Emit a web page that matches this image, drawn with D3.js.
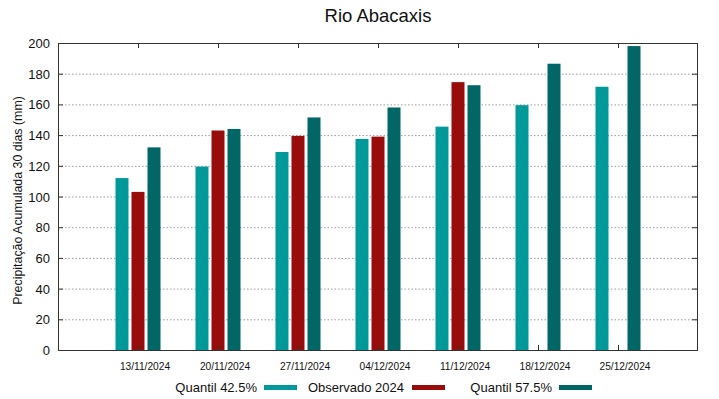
<!DOCTYPE html>
<html>
<head>
<meta charset="utf-8">
<script src="https://cdn.jsdelivr.net/npm/d3@7"></script>
<style>
body { margin: 0; background: #fff; }
svg { font-family: "Liberation Sans", Arial, sans-serif; }
</style>
</head>
<body>
<svg id="chart" width="719" height="399"></svg>
<script>
const dates = ['13/11/2024', '20/11/2024', '27/11/2024', '04/12/2024', '11/12/2024', '18/12/2024', '25/12/2024']
const q425 = [112, 119.5, 129, 137.5, 145.5, 159.5, 171.5]
const obs2024 = [103, 143, 139.5, 139, 174.5, null, null]
const q575 = [132, 144, 151.5, 158, 172.5, 186.5, 198]
const y_ticks = [0, 20, 40, 60, 80, 100, 120, 140, 160, 180, 200]

const colors = { q425: '#009999', obs: '#990c0c', q575: '#006666' }

const svg = d3.select('#chart')
const m = { left: 58, right: 697, top: 43, bottom: 350 }

const x = d3.scaleLinear().domain([0, dates.length + 1]).range([m.left, m.right + 1])
const y = d3.scaleLinear().domain([0, 200]).range([m.bottom, m.top])

// grid
svg.append('g').selectAll('line')
    .data(y_ticks.filter(d => d > 0 && d < 200))
    .enter().append('line')
    .attr('x1', m.left).attr('x2', m.right)
    .attr('y1', d => y(d) + .5).attr('y2', d => y(d) + .5)
    .attr('stroke', '#999').attr('stroke-dasharray', '1.5,2')

// bars
const series = [
    { vals: q425, col: colors.q425, off: -16 },
    { vals: obs2024, col: colors.obs, off: 0 },
    { vals: q575, col: colors.q575, off: 16 }
]
const bw = 13
series.forEach(s => {
    svg.append('g').selectAll('rect')
        .data(s.vals.map((v, i) => ({ v, i })).filter(d => d.v != null))
        .enter().append('rect')
        .attr('x', d => x(d.i + 1) + s.off - bw / 2)
        .attr('width', bw)
        .attr('y', d => y(d.v))
        .attr('height', d => y(0) - y(d.v))
        .attr('fill', s.col)
})

// frame
svg.append('rect')
    .attr('x', m.left + .5).attr('y', m.top + .5)
    .attr('width', m.right - m.left).attr('height', m.bottom - m.top)
    .attr('fill', 'none').attr('stroke', '#333')

// y ticks (mirrored)
const yt = svg.append('g')
y_ticks.forEach(t => {
    yt.append('line').attr('x1', m.left).attr('x2', m.left + 5)
        .attr('y1', y(t) + .5).attr('y2', y(t) + .5).attr('stroke', '#333')
    yt.append('line').attr('x1', m.right - 5).attr('x2', m.right)
        .attr('y1', y(t) + .5).attr('y2', y(t) + .5).attr('stroke', '#333')
    yt.append('text').attr('x', m.left - 8).attr('y', y(t) + 5)
        .attr('text-anchor', 'end').attr('font-size', 13).attr('fill', '#111').text(t)
})

// x ticks (mirrored), labels sit a bit right of the tick
const xt = svg.append('g')
dates.forEach((d, i) => {
    const px = x(i + 1) + .5
    xt.append('line').attr('x1', px).attr('x2', px)
        .attr('y1', m.top).attr('y2', m.top + 5).attr('stroke', '#333')
    xt.append('line').attr('x1', px).attr('x2', px)
        .attr('y1', m.bottom - 5).attr('y2', m.bottom).attr('stroke', '#333')
    xt.append('text').attr('x', px + 6.5).attr('y', 370)
        .attr('text-anchor', 'middle').attr('font-size', 10.2).attr('fill', '#111').text(d)
})

// title
svg.append('text').attr('x', 378).attr('y', 22)
    .attr('text-anchor', 'middle').attr('font-size', 18.5).attr('fill', '#111')
    .text('Rio Abacaxis')

// y label
svg.append('text')
    .attr('transform', 'translate(22,' + ((m.top + m.bottom) / 2 + 4) + ') rotate(-90)')
    .attr('text-anchor', 'middle').attr('font-size', 12.4).attr('fill', '#111')
    .text('Precipitação Acumulada 30 dias (mm)')

// legend
const legend = [
    { label: 'Quantil 42.5%', col: colors.q425, tx: 257, sx: 264 },
    { label: 'Observado 2024', col: colors.obs, tx: 404, sx: 412 },
    { label: 'Quantil 57.5%', col: colors.q575, tx: 552, sx: 559 }
]
legend.forEach(l => {
    svg.append('text').attr('x', l.tx).attr('y', 392)
        .attr('text-anchor', 'end').attr('font-size', 13).attr('fill', '#111').text(l.label)
    svg.append('rect').attr('x', l.sx).attr('y', 385).attr('width', 33).attr('height', 5)
        .attr('fill', l.col)
})
</script>
</body>
</html>
